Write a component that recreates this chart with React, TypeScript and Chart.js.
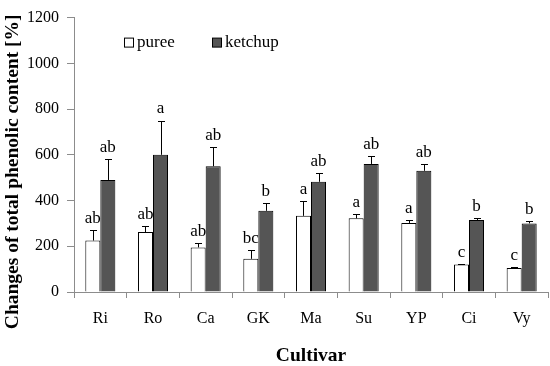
import { useEffect, useRef } from "react";
import { Chart, registerables } from "chart.js";
Chart.register(...registerables);

const cultivars = ["Ri", "Ro", "Ca", "GK", "Ma", "Su", "YP", "Ci", "Vy"];
const pureeValues = [225, 262, 195, 145, 333, 322, 302, 120, 105];
const pureeErrors = [45, 28, 20, 38, 63, 18, 12, 4, 6];
const pureeLetters = ["ab", "ab", "ab", "bc", "a", "a", "a", "c", "c"];
const ketchupValues = [490, 600, 550, 355, 482, 560, 530, 315, 300];
const ketchupErrors = [93, 150, 82, 35, 40, 36, 30, 8, 10];
const ketchupLetters = ["ab", "a", "ab", "b", "ab", "ab", "ab", "b", "b"];
const yMin = 0;
const yMax = 1200;
const yStep = 200;
const yTitle = "Changes of total phenolic content [%]";
const xTitle = "Cultivar";

const FONT = "'Liberation Serif', 'Times New Roman', serif";

const errorPlugin = {
  id: "errorLetters",
  afterDatasetsDraw(chart: any) {
    const ctx = chart.ctx;
    const yScale = chart.scales.y;
    chart.data.datasets.forEach((ds: any, di: number) => {
      const meta = chart.getDatasetMeta(di);
      meta.data.forEach((el: any, i: number) => {
        const v = ds.data[i];
        const e = ds.errors[i];
        const yTop = yScale.getPixelForValue(v + e);
        const yBar = yScale.getPixelForValue(v);
        ctx.save();
        ctx.strokeStyle = "#000";
        ctx.lineWidth = 1;
        ctx.beginPath();
        const x = Math.round(el.x) + 0.5;
        ctx.moveTo(x, yBar);
        ctx.lineTo(x, Math.round(yTop) + 0.5);
        ctx.moveTo(x - 3.5, Math.round(yTop) + 0.5);
        ctx.lineTo(x + 3.5, Math.round(yTop) + 0.5);
        ctx.stroke();
        ctx.fillStyle = "#000";
        ctx.font = `17px ${FONT}`;
        ctx.textAlign = "center";
        ctx.textBaseline = "bottom";
        ctx.fillText(ds.letters[i], el.x, yTop - 3);
        ctx.restore();
      });
    });
    // legend
    const area = chart.chartArea;
    const items = chart.data.datasets.map((ds: any) => ({
      label: ds.label,
      fill: ds.backgroundColor,
    }));
    const positions = [area.left + 50, area.left + 138];
    ctx.save();
    ctx.font = `17px ${FONT}`;
    ctx.textBaseline = "middle";
    ctx.textAlign = "left";
    items.forEach((it: any, k: number) => {
      const bx = positions[k];
      const by = area.top + 20;
      ctx.fillStyle = it.fill;
      ctx.fillRect(bx + 0.5, by + 0.5, 9, 9);
      ctx.strokeStyle = "#000";
      ctx.lineWidth = 1;
      ctx.strokeRect(bx + 0.5, by + 0.5, 9, 9);
      ctx.fillStyle = "#000";
      ctx.fillText(it.label, bx + 13, by + 5);
    });
    ctx.restore();
    // y title
    ctx.save();
    ctx.font = `bold 19.5px ${FONT}`;
    ctx.fillStyle = "#000";
    ctx.textAlign = "center";
    ctx.textBaseline = "middle";
    ctx.translate(13, (area.top + area.bottom) / 2 + 17);
    ctx.rotate(-Math.PI / 2);
    ctx.fillText(yTitle, 0, 0);
    ctx.restore();
  },
};

export default function App() {
  const ref = useRef<HTMLCanvasElement>(null);
  useEffect(() => {
    if (!ref.current) return;
    const chart = new Chart(ref.current, {
      type: "bar",
      data: {
        labels: cultivars,
        datasets: [
          {
            label: "puree",
            data: pureeValues,
            backgroundColor: "#ffffff",
            borderColor: "#000000",
            borderWidth: 1,
            errors: pureeErrors,
            letters: pureeLetters,
          } as any,
          {
            label: "ketchup",
            data: ketchupValues,
            backgroundColor: "#555555",
            borderColor: "#000000",
            borderWidth: 1,
            errors: ketchupErrors,
            letters: ketchupLetters,
          } as any,
        ],
      },
      options: {
        animation: false,
        responsive: false,
        maintainAspectRatio: false,
        layout: { padding: { top: 11, right: 2, left: 0, bottom: 0 } },
        datasets: { bar: { categoryPercentage: 0.57, barPercentage: 1 } },
        plugins: {
          legend: { display: false },
          tooltip: { enabled: false },
        },
        scales: {
          x: {
            grid: {
              drawOnChartArea: false,
              drawTicks: true,
              tickLength: 6,
              color: "#8c8c8c",
              offset: true,
            },
            border: { color: "#8c8c8c", width: 1 },
            ticks: {
              color: "#000",
              font: { family: FONT, size: 16 },
              padding: 11,
            },
            title: {
              display: true,
              text: xTitle,
              color: "#000",
              font: { family: FONT, size: 19.5, weight: "bold", lineHeight: 1 },
              padding: { top: 0, bottom: 0 },
            },
            afterFit: (s: any) => {
              s.height = 74;
            },
          },
          y: {
            min: yMin,
            max: yMax,
            grid: {
              drawOnChartArea: false,
              drawTicks: true,
              tickLength: 7,
              color: "#8c8c8c",
            },
            border: { color: "#8c8c8c", width: 1 },
            ticks: {
              stepSize: yStep,
              color: "#000",
              font: { family: FONT, size: 16 },
              padding: 8,
              callback: (v: any) => String(v),
            },
            afterFit: (s: any) => {
              s.width = 74;
            },
          },
        },
      },
      plugins: [errorPlugin],
    });
    return () => chart.destroy();
  }, []);
  return (
    <div style={{ position: "fixed", left: 0, top: 0, width: 550, height: 366, background: "#fff" }}>
      <canvas ref={ref} width={550} height={366} style={{ width: 550, height: 366 }} />
    </div>
  );
}
